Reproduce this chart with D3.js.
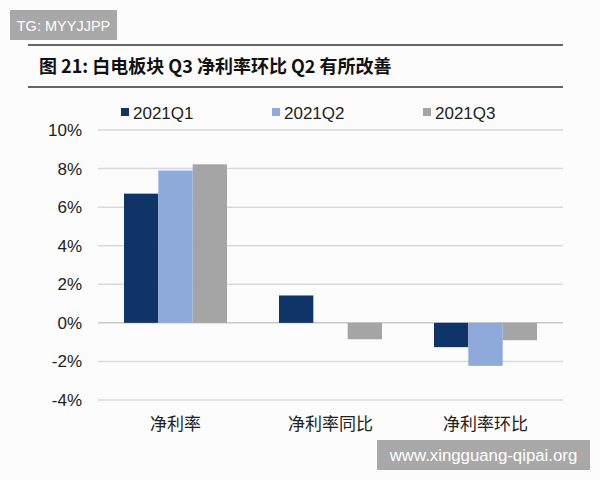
<!DOCTYPE html>
<html><head><meta charset="utf-8">
<script src="https://cdn.jsdelivr.net/npm/d3@7"></script>
<style>body{margin:0;background:#fff}svg{display:block}</style>
</head><body>
<svg id="c" width="600" height="480"></svg>
<script>
const categories = ["净利率", "净利率同比", "净利率环比"];
const seriesNames = ["2021Q1", "2021Q2", "2021Q3"];
const q1 = [6.7, 1.42, -1.26];
const q2 = [7.9, null, -2.23];
const q3 = [8.22, -0.85, -0.9];
const yTicks = [-4, -2, 0, 2, 4, 6, 8, 10];
const colors = ["#0e3468", "#8eaadb", "#a5a5a5"];
const series = [q1, q2, q3];

const svg = d3.select("#c");
svg.append("rect").attr("width",600).attr("height",480).attr("fill","#fcfcfc");

// title block
svg.append("line").attr("x1",28).attr("x2",563).attr("y1",45).attr("y2",45).attr("stroke","#333").attr("stroke-width",1.5);
svg.append("line").attr("x1",28).attr("x2",563).attr("y1",87).attr("y2",87).attr("stroke","#333").attr("stroke-width",1.5);
svg.append("text").attr("x",39).attr("y",73).attr("font-family","Noto Sans CJK SC").attr("font-weight","bold")
  .attr("font-size",18).attr("fill","#111").text("图 21:  白电板块 Q3 净利率环比 Q2 有所改善");

const x0 = d3.scaleBand().domain(categories).range([98, 563]);
const x1 = d3.scaleBand().domain(seriesNames).range([0, 103]);
const y = d3.scaleLinear().domain([-4, 10]).range([400, 130]);

// grid
svg.append("g").selectAll("line").data(yTicks).join("line")
  .attr("x1",98).attr("x2",563).attr("y1",d=>y(d)).attr("y2",d=>y(d))
  .attr("stroke",d=>d===0?"#c8c8c8":"#d9d9d9").attr("stroke-width",1.5);

// y labels
svg.append("g").selectAll("text").data(yTicks).join("text")
  .attr("x",82).attr("y",d=>y(d)+6).attr("text-anchor","end")
  .attr("font-family","Liberation Sans, Arial").attr("font-size",17).attr("fill","#222")
  .text(d=>d+"%");

// bars
series.forEach((s,i)=>{
  svg.append("g").selectAll("rect").data(categories.map((c,j)=>({c,v:s[j]})).filter(d=>d.v!==null)).join("rect")
    .attr("x",d=>x0(d.c)+(x0.bandwidth()-103)/2+x1(seriesNames[i]))
    .attr("width",x1.bandwidth())
    .attr("y",d=>y(Math.max(0,d.v)))
    .attr("height",d=>Math.abs(y(d.v)-y(0)))
    .attr("fill",colors[i]);
});

// category labels
svg.append("g").selectAll("text").data(categories).join("text")
  .attr("x",d=>x0(d)+x0.bandwidth()/2).attr("y",430).attr("text-anchor","middle")
  .attr("font-family","Noto Sans CJK SC").attr("font-size",17).attr("fill","#222").text(d=>d);

// legend
const legX = [121, 272, 423];
seriesNames.forEach((n,i)=>{
  svg.append("rect").attr("x",legX[i]).attr("y",108).attr("width",8).attr("height",8).attr("fill",colors[i]);
  svg.append("text").attr("x",legX[i]+12).attr("y",119).attr("font-family","Liberation Sans, Arial")
    .attr("font-size",17).attr("fill","#222").text(n);
});

// badges
svg.append("rect").attr("x",10).attr("y",10).attr("width",107).attr("height",30).attr("fill","#a8a8a8");
svg.append("text").attr("x",63.5).attr("y",31).attr("text-anchor","middle").attr("font-family","Liberation Sans, Arial").attr("font-size",14.5).attr("fill","#fff").text("TG: MYYJJPP");
svg.append("rect").attr("x",377).attr("y",440).attr("width",213).attr("height",30).attr("fill","#a8a8a8");
svg.append("text").attr("x",483.5).attr("y",461).attr("text-anchor","middle").attr("font-family","Liberation Sans, Arial").attr("font-size",16.8).attr("fill","#fff").text("www.xingguang-qipai.org");
</script>
</body></html>
